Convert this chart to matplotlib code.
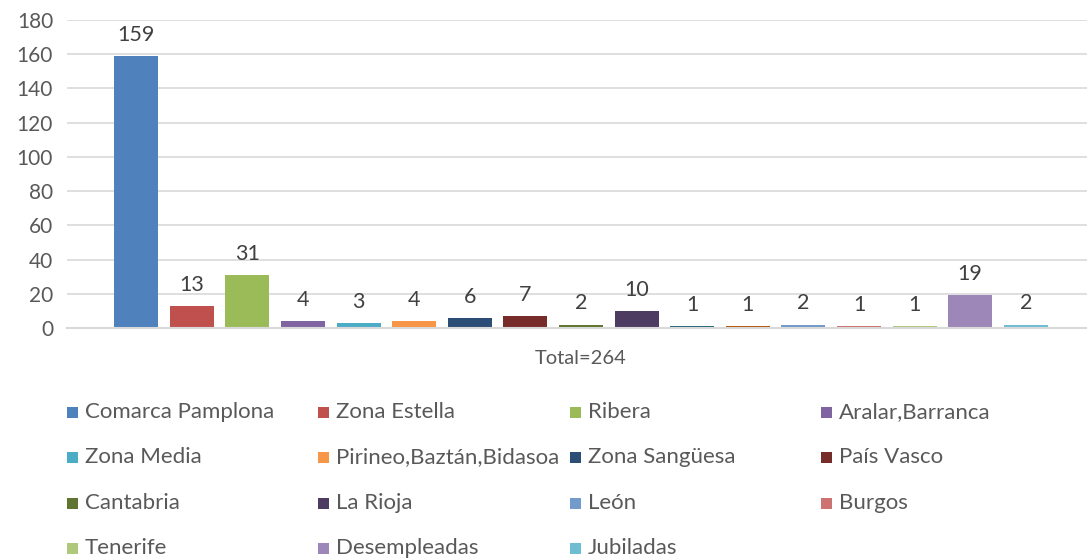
import matplotlib.pyplot as plt
from matplotlib.patches import Rectangle
import numpy as np

plt.rcParams['font.family'] = ['Lato', 'DejaVu Sans']

series = ["Comarca Pamplona", "Zona Estella", "Ribera", "Aralar,Barranca",
          "Zona Media", "Pirineo,Baztán,Bidasoa", "Zona Sangüesa", "País Vasco",
          "Cantabria", "La Rioja", "", "", "León", "Burgos", "Tenerife",
          "Desempleadas", "Jubiladas"]
values = [159, 13, 31, 4, 3, 4, 6, 7, 2, 10, 1, 1, 2, 1, 1, 19, 2]
colors = ["#4F81BD", "#C0504D", "#9BBB59", "#8064A2", "#4BACC6", "#F79646",
          "#2C4D75", "#772C2A", "#5F7530", "#4D3B62", "#276A7C", "#B65708",
          "#729ACA", "#CD7371", "#AFC97A", "#9D87B8", "#6FBDD3"]
category = "Total=264"
yticks = [0, 20, 40, 60, 80, 100, 120, 140, 160, 180]

W, H = 1087, 560
fig = plt.figure(figsize=(W / 100, H / 100), dpi=100)
ax = fig.add_axes([67 / W, 1 - 328 / H, (1095 - 67) / W, (328 - 20) / H])

n = len(values)
x = np.arange(n) - (n - 1) / 2
bars = ax.bar(x, values, width=0.79, color=colors)
for xi, v in zip(x, values):
    ax.annotate(str(v), (xi, v), xytext=(0, 8), textcoords="offset points",
                ha="center", va="bottom", fontsize=15.5, color="#404040")

ax.set_xlim(-9.245, 9.245)
ax.set_ylim(0, 180)
ax.set_yticks(yticks)
ax.set_xticks([0])
ax.set_xticklabels([category])
ax.tick_params(axis="x", length=0, pad=16, labelsize=14.5, labelcolor="#595959")
ax.tick_params(axis="y", length=0, pad=10, labelsize=15, labelcolor="#595959")
ax.yaxis.grid(True, color="#D9D9D9", linewidth=1.2)
ax.set_axisbelow(True)
for s in ["left", "right", "top"]:
    ax.spines[s].set_visible(False)
ax.spines["bottom"].set_color("#D9D9D9")
ax.spines["bottom"].set_linewidth(1.5)

# legend below the plot, four columns
k = 0
for name, c in zip(series, colors):
    if not name:
        continue
    col, row = k % 4, k // 4
    px = 67 + 251.3 * col
    py = 412 + 45.3 * row
    fig.add_artist(Rectangle((px / W, 1 - (py + 6) / H), 11 / W, 11 / H,
                             facecolor=c, transform=fig.transFigure))
    fig.text((px + 18) / W, 1 - py / H, name, fontsize=16, color="#595959",
             va="center", ha="left")
    k += 1

fig.savefig("out.png", dpi=100, facecolor="white")
